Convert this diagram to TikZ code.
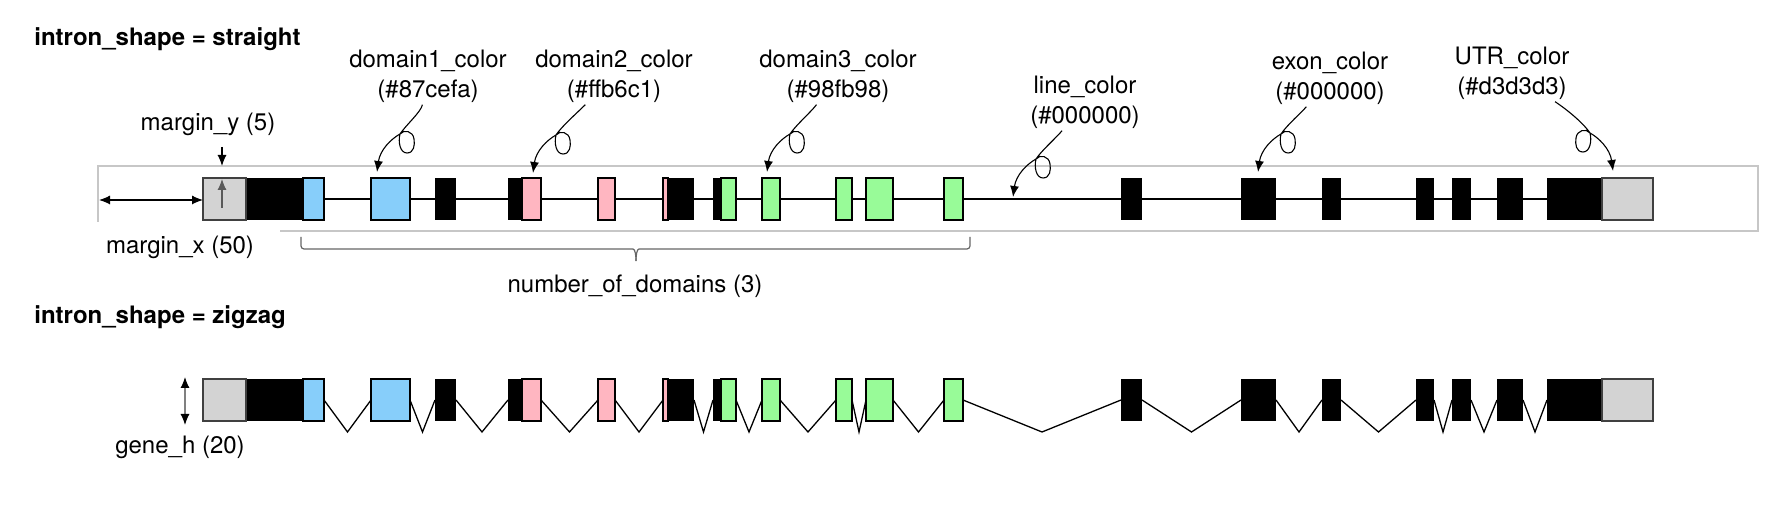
\documentclass[tikz,border=0pt]{standalone}
\usepackage{fontspec}
\setmainfont{TeX Gyre Heros}
\usetikzlibrary{arrows.meta,calc}
\definecolor{utrgray}{HTML}{D3D3D3}
\definecolor{dom1}{HTML}{87CEFA}
\definecolor{dom2}{HTML}{FFB6C1}
\definecolor{dom3}{HTML}{98FB98}
\newcommand{\exonlist}{246/324,371/410,435/456,508/541,598/615,663/694,713/736,762/780,836/852,866/893,944/963,1121/1142,1241/1276,1322/1341,1416/1434,1452/1471,1497/1523,1547/1602}
\newcommand{\intronlist}{324/371,410/435,456/508,541/598,615/663,694/713,736/762,780/836,852/866,893/944,963/1121,1142/1241,1276/1322,1341/1416,1434/1452,1471/1497,1523/1547}
\newcommand{\domainlist}{303/324/dom1,371/410/dom1,522/541/dom2,598/615/dom2,663/668/dom2,721/736/dom3,762/780/dom3,836/852/dom3,866/893/dom3,944/963/dom3}

\begin{document}
\begin{tikzpicture}[
    x=0.5pt, y=-0.5pt,
    lbl/.style={font=\fontsize{12}{15}\selectfont,align=center,inner sep=1pt},
    title/.style={font=\fontsize{12}{15}\selectfont\bfseries,anchor=west,inner sep=0pt},
    exon/.style={fill=black},
    domain/.style={fill=#1,draw=black,line width=0.75pt},
    utr/.style={fill=utrgray,draw=black!75,line width=0.75pt},
    intron/.style={line width=0.65pt},
    frame/.style={draw=black!22,line width=0.8pt},
    dim/.style={{Latex[length=5.5pt,width=4.5pt]}-{Latex[length=5.5pt,width=4.5pt]},line width=0.55pt},
    arrow/.style={-{Latex[length=5.5pt,width=4.5pt]},line width=0.55pt},
    curly/.style={arrow,to path={
        .. controls ($(\tikztotarget)+(#1*44,-60)$) and ($(\tikztotarget)+(#1*29,-47)$) .. ($(\tikztotarget)+(#1*23,-38)$)
        .. controls ($(\tikztotarget)+(#1*21,-30)$) and ($(\tikztotarget)+(#1*23,-19)$) .. ($(\tikztotarget)+(#1*30,-19)$)
        .. controls ($(\tikztotarget)+(#1*37,-19)$) and ($(\tikztotarget)+(#1*38,-27)$) .. ($(\tikztotarget)+(#1*37,-33)$)
        .. controls ($(\tikztotarget)+(#1*36,-41)$) and ($(\tikztotarget)+(#1*27,-43)$) .. ($(\tikztotarget)+(#1*23,-38)$)
        .. controls ($(\tikztotarget)+(#1*14,-33)$) and ($(\tikztotarget)+(#1*3,-22)$) .. (\tikztotarget)}},
    curly/.default=1,
    brace/.style={draw=black!60,line width=0.6pt,rounded corners=1.5pt}
  ]
    \useasboundingbox (0,0) rectangle (1787,506);

    % Titles
    \node[title] (t-straight) at (34,39) {intron\_shape = straight};
    \node[title] (t-zigzag) at (34,317) {intron\_shape = zigzag};

    % Margin frame
    \draw[frame] (98,166) rectangle (1758,231);
    \node[lbl,fill=white,minimum width=100pt,minimum height=25pt] (mx) at (180,247) {margin\_x (50)};
    \node[lbl] (my) at (208,124) {margin\_y (5)};

    % Gene models
    \draw[intron] (203,199) -- (1653,199);
    \foreach \a/\b in \intronlist
      \draw[intron] (\a,400) -- ({(\a+\b)/2},432) -- (\b,400);
    \foreach \dy in {0,201} {
      \foreach \a/\b in \exonlist
        \fill[exon] (\a,178+\dy) rectangle (\b,220+\dy);
      \foreach \a/\b/\c in \domainlist
        \draw[domain=\c] (\a,178+\dy) rectangle (\b,220+\dy);
      \draw[utr] (203,178+\dy) rectangle (246,220+\dy);
      \draw[utr] (1602,178+\dy) rectangle (1653,220+\dy);
    }

    % Margins and height
    \coordinate (fl) at (99,200);
    \coordinate (gs) at (203,200);
    \draw[dim] (fl) -- (gs);
    \coordinate (my-a) at (222,147);
    \coordinate (my-b) at (222,166);
    \draw[arrow] (my-a) -- (my-b);
    \coordinate (my-c) at (222,208);
    \coordinate (my-d) at (222,179);
    \draw[arrow,draw=black!65] (my-c) -- (my-d);
    \coordinate (gh-a) at (185,377);
    \coordinate (gh-b) at (185,425);
    \draw[dim,draw=black!50,{Latex[length=5.5pt,width=4.5pt,color=black]}-{Latex[length=5.5pt,width=4.5pt,color=black]}] (gh-a) -- (gh-b);
    \node[lbl] (gh) at (180,447) {gene\_h (20)};

    % Domain bracket
    \coordinate (br-l) at (301,237);
    \coordinate (br-r) at (970,237);
    \coordinate (br-m) at (636,261);
    \draw[brace] (br-l) |- (630,249) to[out=0,in=90] (br-m);
    \draw[brace] (br-r) |- (642,249) to[out=180,in=90] (br-m);
    \node[lbl] (nd) at (635,286) {number\_of\_domains (3)};

    % Colour labels
    \node[lbl] (d1) at (428,76) {domain1\_color\\(\#87cefa)};
    \node[lbl] (d2) at (614,76) {domain2\_color\\(\#ffb6c1)};
    \node[lbl] (d3) at (838,76) {domain3\_color\\(\#98fb98)};
    \node[lbl] (lc) at (1085,102) {line\_color\\(\#000000)};
    \node[lbl] (ec) at (1330,78) {exon\_color\\(\#000000)};
    \node[lbl] (uc) at (1512,73) {UTR\_color\\(\#d3d3d3)};

    \coordinate (p1) at (377,172);
    \coordinate (p2) at (533,173);
    \coordinate (p3) at (767,172);
    \coordinate (p4) at (1013,197);
    \coordinate (p5) at (1258,172);
    \coordinate (p6) at (1613,171);
    \draw[curly] (d1) to (p1);
    \draw[curly] (d2) to (p2);
    \draw[curly] (d3) to (p3);
    \draw[curly] (lc) to (p4);
    \draw[curly] (ec) to (p5);
    \draw[curly=-1] (uc) to (p6);
\end{tikzpicture}
\end{document}
